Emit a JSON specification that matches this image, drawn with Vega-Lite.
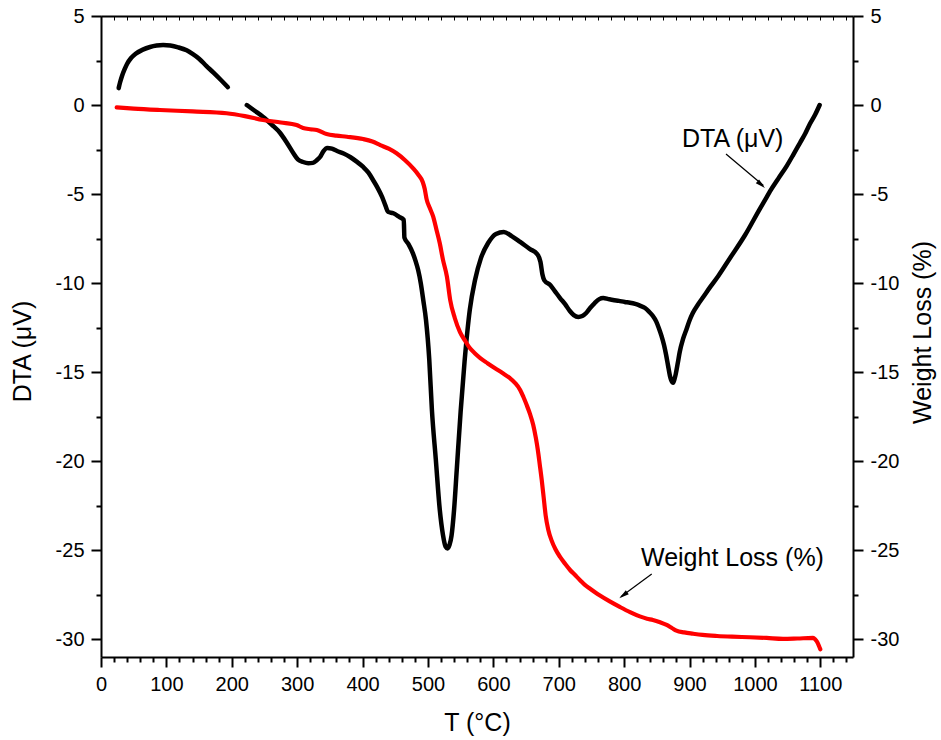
{
  "$schema": "https://vega.github.io/schema/vega-lite/v6.json",
  "autosize": "none",
  "width": 752,
  "height": 641,
  "padding": {"left": 101, "top": 16, "right": 88, "bottom": 83},
  "background": "white",
  "config": {
    "view": {"stroke": null},
    "font": "Liberation Sans",
    "axis": {
      "grid": false,
      "domainColor": "black",
      "domainWidth": 2,
      "tickColor": "black",
      "tickWidth": 2,
      "labelColor": "black",
      "titleColor": "black",
      "labelFont": "Liberation Sans",
      "titleFont": "Liberation Sans",
      "labelFontSize": 20,
      "titleFontSize": 25,
      "titleFontWeight": "normal",
      "labelOverlap": false,
      "labelFlush": false,
      "labelPadding": 7
    }
  },
  "datasets": {
    "dta": [
      {"T": 27, "v": 0.95, "part": 1}, {"T": 29, "v": 1.25, "part": 1}, {"T": 32, "v": 1.62, "part": 1},
      {"T": 36, "v": 2.0, "part": 1}, {"T": 40, "v": 2.32, "part": 1}, {"T": 46, "v": 2.64, "part": 1},
      {"T": 53, "v": 2.88, "part": 1}, {"T": 64, "v": 3.11, "part": 1}, {"T": 75, "v": 3.26, "part": 1},
      {"T": 85, "v": 3.34, "part": 1}, {"T": 95, "v": 3.37, "part": 1}, {"T": 106, "v": 3.34, "part": 1},
      {"T": 118, "v": 3.24, "part": 1}, {"T": 131, "v": 3.07, "part": 1}, {"T": 140, "v": 2.87, "part": 1},
      {"T": 150, "v": 2.6, "part": 1}, {"T": 161, "v": 2.2, "part": 1}, {"T": 172, "v": 1.82, "part": 1},
      {"T": 183, "v": 1.42, "part": 1}, {"T": 194, "v": 1.0, "part": 1},
      {"T": 223, "v": 0.0, "part": 2}, {"T": 235, "v": -0.32, "part": 2}, {"T": 248, "v": -0.67, "part": 2},
      {"T": 261, "v": -1.1, "part": 2}, {"T": 274, "v": -1.57, "part": 2}, {"T": 284, "v": -2.1, "part": 2},
      {"T": 294, "v": -2.69, "part": 2}, {"T": 301, "v": -3.05, "part": 2}, {"T": 309, "v": -3.2, "part": 2},
      {"T": 317, "v": -3.27, "part": 2}, {"T": 324, "v": -3.25, "part": 2}, {"T": 330, "v": -3.1, "part": 2},
      {"T": 335, "v": -2.92, "part": 2}, {"T": 340, "v": -2.6, "part": 2}, {"T": 346, "v": -2.41, "part": 2},
      {"T": 353, "v": -2.45, "part": 2}, {"T": 361, "v": -2.58, "part": 2}, {"T": 371, "v": -2.72, "part": 2},
      {"T": 381, "v": -2.92, "part": 2}, {"T": 391, "v": -3.18, "part": 2}, {"T": 401, "v": -3.48, "part": 2},
      {"T": 409, "v": -3.8, "part": 2}, {"T": 416, "v": -4.21, "part": 2}, {"T": 423, "v": -4.65, "part": 2},
      {"T": 430, "v": -5.17, "part": 2}, {"T": 435, "v": -5.65, "part": 2}, {"T": 439, "v": -6.0, "part": 2},
      {"T": 447, "v": -6.08, "part": 2}, {"T": 456, "v": -6.28, "part": 2}, {"T": 463, "v": -6.45, "part": 2},
      {"T": 464, "v": -7.45, "part": 2}, {"T": 470, "v": -7.8, "part": 2}, {"T": 477, "v": -8.33, "part": 2},
      {"T": 481, "v": -8.75, "part": 2}, {"T": 485, "v": -9.27, "part": 2}, {"T": 489, "v": -10.0, "part": 2},
      {"T": 493, "v": -11.0, "part": 2}, {"T": 497, "v": -12.07, "part": 2}, {"T": 502, "v": -14.3, "part": 2},
      {"T": 506, "v": -17.1, "part": 2}, {"T": 512, "v": -19.9, "part": 2}, {"T": 518, "v": -22.7, "part": 2},
      {"T": 523, "v": -24.15, "part": 2}, {"T": 527, "v": -24.8, "part": 2}, {"T": 530, "v": -24.9, "part": 2},
      {"T": 533, "v": -24.7, "part": 2}, {"T": 536, "v": -24.2, "part": 2}, {"T": 540, "v": -22.7, "part": 2},
      {"T": 544, "v": -20.5, "part": 2}, {"T": 550, "v": -17.2, "part": 2}, {"T": 556, "v": -14.4, "part": 2},
      {"T": 564, "v": -11.5, "part": 2}, {"T": 572, "v": -9.83, "part": 2}, {"T": 581, "v": -8.6, "part": 2},
      {"T": 592, "v": -7.75, "part": 2}, {"T": 604, "v": -7.24, "part": 2}, {"T": 616, "v": -7.13, "part": 2},
      {"T": 628, "v": -7.36, "part": 2}, {"T": 641, "v": -7.69, "part": 2}, {"T": 656, "v": -8.09, "part": 2},
      {"T": 667, "v": -8.37, "part": 2}, {"T": 672, "v": -8.8, "part": 2}, {"T": 675, "v": -9.5, "part": 2},
      {"T": 678, "v": -9.85, "part": 2}, {"T": 687, "v": -10.11, "part": 2}, {"T": 694, "v": -10.45, "part": 2},
      {"T": 702, "v": -10.84, "part": 2}, {"T": 710, "v": -11.2, "part": 2}, {"T": 717, "v": -11.57, "part": 2},
      {"T": 723, "v": -11.8, "part": 2}, {"T": 730, "v": -11.9, "part": 2}, {"T": 736, "v": -11.85, "part": 2},
      {"T": 742, "v": -11.68, "part": 2}, {"T": 748, "v": -11.4, "part": 2}, {"T": 755, "v": -11.12, "part": 2},
      {"T": 762, "v": -10.9, "part": 2}, {"T": 768, "v": -10.84, "part": 2}, {"T": 776, "v": -10.9, "part": 2},
      {"T": 783, "v": -10.95, "part": 2}, {"T": 792, "v": -11.0, "part": 2}, {"T": 801, "v": -11.06, "part": 2},
      {"T": 809, "v": -11.1, "part": 2}, {"T": 817, "v": -11.17, "part": 2}, {"T": 825, "v": -11.28, "part": 2},
      {"T": 832, "v": -11.4, "part": 2}, {"T": 838, "v": -11.6, "part": 2}, {"T": 844, "v": -11.85, "part": 2},
      {"T": 849, "v": -12.15, "part": 2}, {"T": 853, "v": -12.52, "part": 2}, {"T": 857, "v": -12.95, "part": 2},
      {"T": 861, "v": -13.48, "part": 2}, {"T": 864, "v": -14.0, "part": 2}, {"T": 867, "v": -14.6, "part": 2},
      {"T": 870, "v": -15.2, "part": 2}, {"T": 872, "v": -15.45, "part": 2}, {"T": 875, "v": -15.6, "part": 2},
      {"T": 877, "v": -15.4, "part": 2}, {"T": 879, "v": -15.1, "part": 2}, {"T": 882, "v": -14.5, "part": 2},
      {"T": 885, "v": -13.87, "part": 2}, {"T": 890, "v": -13.15, "part": 2}, {"T": 895, "v": -12.63, "part": 2},
      {"T": 900, "v": -12.1, "part": 2}, {"T": 905, "v": -11.68, "part": 2}, {"T": 913, "v": -11.2, "part": 2},
      {"T": 921, "v": -10.78, "part": 2}, {"T": 932, "v": -10.2, "part": 2}, {"T": 944, "v": -9.6, "part": 2},
      {"T": 962, "v": -8.59, "part": 2}, {"T": 985, "v": -7.3, "part": 2}, {"T": 1008, "v": -5.8, "part": 2},
      {"T": 1016, "v": -5.3, "part": 2}, {"T": 1023, "v": -4.85, "part": 2}, {"T": 1036, "v": -4.12, "part": 2},
      {"T": 1049, "v": -3.4, "part": 2}, {"T": 1059, "v": -2.77, "part": 2}, {"T": 1069, "v": -2.12, "part": 2},
      {"T": 1077, "v": -1.6, "part": 2}, {"T": 1084, "v": -1.07, "part": 2}, {"T": 1092, "v": -0.55, "part": 2},
      {"T": 1099, "v": 0.0, "part": 2}
    ],
    "wl": [
      {"T": 24, "w": -0.13}, {"T": 50, "w": -0.2}, {"T": 90, "w": -0.28}, {"T": 140, "w": -0.36},
      {"T": 192, "w": -0.46}, {"T": 220, "w": -0.62}, {"T": 248, "w": -0.84}, {"T": 275, "w": -0.98},
      {"T": 299, "w": -1.12}, {"T": 309, "w": -1.29}, {"T": 320, "w": -1.36}, {"T": 330, "w": -1.4},
      {"T": 345, "w": -1.63}, {"T": 360, "w": -1.72}, {"T": 376, "w": -1.78}, {"T": 401, "w": -1.91},
      {"T": 415, "w": -2.05}, {"T": 427, "w": -2.25}, {"T": 440, "w": -2.45}, {"T": 452, "w": -2.71},
      {"T": 465, "w": -3.1}, {"T": 477, "w": -3.54}, {"T": 485, "w": -3.9}, {"T": 492, "w": -4.32},
      {"T": 495, "w": -4.7}, {"T": 498, "w": -5.3}, {"T": 503, "w": -5.8}, {"T": 508, "w": -6.27},
      {"T": 513, "w": -7.0}, {"T": 518, "w": -7.75}, {"T": 523, "w": -8.7}, {"T": 529, "w": -9.64},
      {"T": 534, "w": -10.95}, {"T": 541, "w": -11.96}, {"T": 549, "w": -12.75}, {"T": 557, "w": -13.25},
      {"T": 564, "w": -13.65}, {"T": 572, "w": -13.95}, {"T": 580, "w": -14.21}, {"T": 591, "w": -14.5},
      {"T": 602, "w": -14.77}, {"T": 614, "w": -15.05}, {"T": 625, "w": -15.33}, {"T": 633, "w": -15.6},
      {"T": 641, "w": -16.0}, {"T": 646, "w": -16.4}, {"T": 651, "w": -16.85}, {"T": 656, "w": -17.35},
      {"T": 661, "w": -17.97}, {"T": 665, "w": -18.7}, {"T": 668, "w": -19.37}, {"T": 671, "w": -20.2},
      {"T": 674, "w": -21.06}, {"T": 677, "w": -22.05}, {"T": 680, "w": -23.05}, {"T": 684, "w": -23.85},
      {"T": 689, "w": -24.45}, {"T": 695, "w": -24.95}, {"T": 702, "w": -25.38}, {"T": 710, "w": -25.78},
      {"T": 717, "w": -26.1}, {"T": 725, "w": -26.4}, {"T": 733, "w": -26.7}, {"T": 740, "w": -26.95},
      {"T": 748, "w": -27.17}, {"T": 756, "w": -27.38}, {"T": 763, "w": -27.55}, {"T": 778, "w": -27.88},
      {"T": 794, "w": -28.2}, {"T": 809, "w": -28.48}, {"T": 824, "w": -28.72}, {"T": 835, "w": -28.85},
      {"T": 844, "w": -28.92}, {"T": 855, "w": -29.05}, {"T": 865, "w": -29.2}, {"T": 873, "w": -29.37},
      {"T": 880, "w": -29.52}, {"T": 892, "w": -29.62}, {"T": 905, "w": -29.69}, {"T": 920, "w": -29.76},
      {"T": 942, "w": -29.82}, {"T": 965, "w": -29.86}, {"T": 992, "w": -29.89}, {"T": 1018, "w": -29.93},
      {"T": 1043, "w": -29.98}, {"T": 1065, "w": -29.96}, {"T": 1089, "w": -29.93}, {"T": 1092, "w": -30.0},
      {"T": 1095, "w": -30.14}, {"T": 1098, "w": -30.38}, {"T": 1100, "w": -30.57}
    ]
  },
  "layer": [
    {
      "data": {"name": "dta"},
      "mark": {"type": "line", "color": "black", "strokeWidth": 4.5, "strokeCap": "round", "strokeJoin": "round", "interpolate": "monotone"},
      "encoding": {
        "x": {
          "field": "T", "type": "quantitative",
          "scale": {"domain": [0, 1150], "nice": false, "zero": false},
          "axis": {
            "orient": "bottom",
            "title": "T (°C)",
            "titlePadding": 16,
            "values": [0,20,40,60,80,100,120,140,160,180,200,220,240,260,280,300,320,340,360,380,400,420,440,460,480,500,520,540,560,580,600,620,640,660,680,700,720,740,760,780,800,820,840,860,880,900,920,940,960,980,1000,1020,1040,1060,1080,1100,1120,1140],
            "labelExpr": "datum.value % 100 === 0 ? '' + datum.value : ''",
            "tickSize": {"condition": {"test": "datum.value % 100 === 0", "value": 10}, "value": 5}
          }
        },
        "y": {
          "field": "v", "type": "quantitative",
          "scale": {"domain": [-31, 5], "nice": false, "zero": false},
          "axis": {
            "orient": "left",
            "title": "DTA (μV)",
            "titlePadding": 20,
            "titleY": 335,
            "values": [5,2.5,0,-2.5,-5,-7.5,-10,-12.5,-15,-17.5,-20,-22.5,-25,-27.5,-30],
            "labelExpr": "datum.value % 5 === 0 ? '' + datum.value : ''",
            "tickSize": {"condition": {"test": "datum.value % 5 === 0", "value": 10}, "value": 5}
          }
        },
        "detail": {"field": "part", "type": "nominal"}
      }
    },
    {
      "data": {"name": "wl"},
      "mark": {"type": "line", "color": "#ff0000", "strokeWidth": 4.2, "strokeCap": "round", "strokeJoin": "round", "interpolate": "monotone"},
      "encoding": {
        "x": {
          "field": "T", "type": "quantitative",
          "axis": {
            "orient": "top",
            "title": null,
            "labels": false,
            "values": [0,20,40,60,80,100,120,140,160,180,200,220,240,260,280,300,320,340,360,380,400,420,440,460,480,500,520,540,560,580,600,620,640,660,680,700,720,740,760,780,800,820,840,860,880,900,920,940,960,980,1000,1020,1040,1060,1080,1100,1120,1140],
            "tickSize": -4,
            "tickWidth": 1
          }
        },
        "y": {
          "field": "w", "type": "quantitative",
          "axis": {
            "orient": "right",
            "title": "Weight Loss (%)",
            "titleAngle": -90,
            "titleBaseline": "top",
            "titlePadding": 12,
            "titleY": 316,
            "values": [5,2.5,0,-2.5,-5,-7.5,-10,-12.5,-15,-17.5,-20,-22.5,-25,-27.5,-30],
            "labelExpr": "datum.value % 5 === 0 ? '' + datum.value : ''",
            "tickSize": {"condition": {"test": "datum.value % 5 === 0", "value": 10}, "value": 5}
          }
        }
      }
    },
    {
      "data": {"values": [
        {"T": 888.5, "v": -2.36, "label": "DTA (μV)"},
        {"T": 825.8, "v": -25.89, "label": "Weight Loss (%)"}
      ]},
      "mark": {"type": "text", "align": "left", "baseline": "alphabetic", "fontSize": 25, "color": "black", "font": "Liberation Sans"},
      "encoding": {
        "x": {"field": "T", "type": "quantitative", "axis": null},
        "y": {"field": "v", "type": "quantitative", "axis": null},
        "text": {"field": "label"}
      }
    },
    {
      "data": {"values": [
        {"T": 955.8, "v": -2.75, "T2": 1013.0, "v2": -4.52},
        {"T": 842.2, "v": -26.34, "T2": 795.0, "v2": -27.62}
      ]},
      "mark": {"type": "rule", "color": "black", "strokeWidth": 1.2},
      "encoding": {
        "x": {"field": "T", "type": "quantitative", "axis": null},
        "y": {"field": "v", "type": "quantitative", "axis": null},
        "x2": {"field": "T2"},
        "y2": {"field": "v2"}
      }
    },
    {
      "data": {"values": [{"T": 1015.4, "v": -4.66}]},
      "mark": {"type": "point", "shape": "M-2,-0.5L0,0L-2,0.5Z", "filled": true, "color": "black", "opacity": 1, "size": 100, "angle": 41},
      "encoding": {
        "x": {"field": "T", "type": "quantitative", "axis": null},
        "y": {"field": "v", "type": "quantitative", "axis": null}
      }
    },
    {
      "data": {"values": [{"T": 792.6, "v": -27.7}]},
      "mark": {"type": "point", "shape": "M-2,-0.5L0,0L-2,0.5Z", "filled": true, "color": "black", "opacity": 1, "size": 100, "angle": 143},
      "encoding": {
        "x": {"field": "T", "type": "quantitative", "axis": null},
        "y": {"field": "v", "type": "quantitative", "axis": null}
      }
    }
  ],
  "resolve": {"axis": {"x": "independent", "y": "independent"}}
}
